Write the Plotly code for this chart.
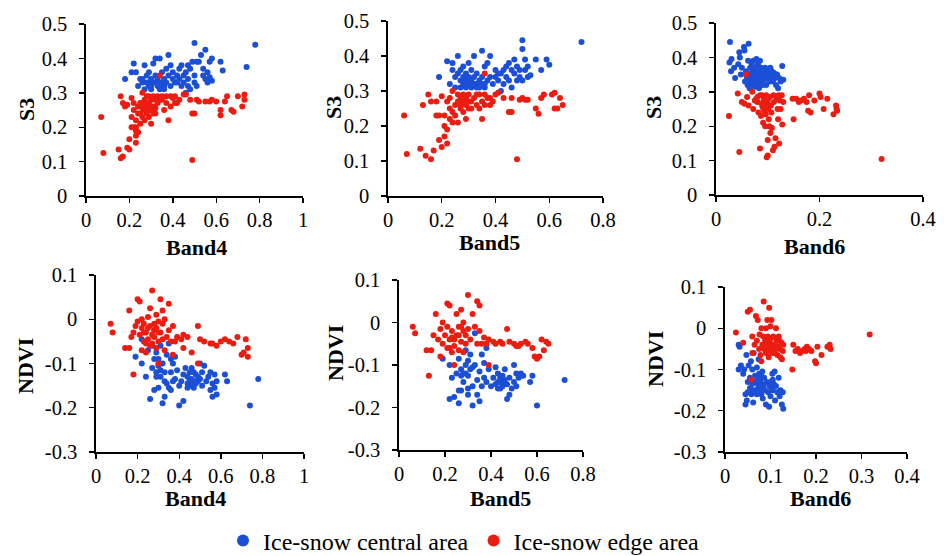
import plotly.graph_objects as go

W, H = 944, 556

# ---------------- data ----------------
# Panel 1: Band4 vs S3
p1_blue_x = [0.18,0.21,0.22,0.23,0.24,0.25,0.26,0.27,0.27,0.28,0.28,0.29,0.29,0.30,0.30,0.31,0.31,0.32,0.32,0.33,
             0.33,0.34,0.34,0.35,0.35,0.36,0.36,0.37,0.37,0.38,0.38,0.39,0.39,0.40,0.40,0.41,0.42,0.43,0.43,0.44,
             0.44,0.45,0.45,0.46,0.46,0.47,0.47,0.48,0.48,0.49,0.50,0.50,0.50,0.51,0.51,0.53,0.54,0.54,0.55,0.55,
             0.56,0.56,0.57,0.57,0.58,0.58,0.62,0.63,0.74,0.78,0.26,0.29,0.30,0.32,0.33,0.34,0.36,0.52,0.47,0.42]
p1_blue_y = [0.34,0.36,0.385,0.36,0.32,0.34,0.33,0.31,0.38,0.33,0.35,0.32,0.36,0.34,0.31,0.33,0.385,0.40,0.35,0.32,
             0.34,0.40,0.31,0.33,0.36,0.32,0.34,0.37,0.33,0.41,0.35,0.32,0.38,0.34,0.36,0.33,0.35,0.34,0.37,0.32,
             0.38,0.35,0.33,0.36,0.30,0.38,0.34,0.37,0.31,0.39,0.445,0.35,0.33,0.39,0.32,0.41,0.37,0.35,0.425,0.34,
             0.36,0.33,0.39,0.345,0.40,0.335,0.39,0.365,0.375,0.44,0.34,0.33,0.32,0.33,0.33,0.32,0.31,0.39,0.32,0.33]
p1_red_x = [0.07,0.08,0.15,0.16,0.17,0.16,0.17,0.18,0.19,0.19,0.20,0.20,0.21,0.21,0.22,0.22,0.23,0.23,0.23,0.23,
            0.24,0.24,0.25,0.25,0.26,0.26,0.27,0.27,0.28,0.28,0.28,0.29,0.29,0.30,0.30,0.30,0.31,0.31,0.32,0.32,
            0.33,0.33,0.34,0.34,0.36,0.37,0.37,0.38,0.39,0.40,0.41,0.42,0.43,0.45,0.46,0.48,0.49,0.49,0.50,0.51,
            0.52,0.55,0.57,0.58,0.60,0.62,0.62,0.64,0.65,0.67,0.68,0.70,0.72,0.73,0.73,0.26,0.29,0.35,0.22,0.24,
            0.27,0.30,0.31,0.26,0.28,0.32,0.35,0.39,0.41,0.21,0.23,0.25,0.29]
p1_red_y = [0.23,0.125,0.135,0.11,0.115,0.29,0.27,0.26,0.265,0.14,0.135,0.165,0.285,0.23,0.20,0.25,0.175,0.155,0.22,0.20,
            0.185,0.24,0.27,0.21,0.23,0.255,0.28,0.25,0.24,0.26,0.29,0.27,0.23,0.25,0.28,0.21,0.26,0.29,0.255,0.24,
            0.27,0.29,0.35,0.28,0.25,0.29,0.27,0.22,0.26,0.285,0.29,0.27,0.28,0.295,0.295,0.28,0.24,0.105,0.24,0.28,
            0.275,0.275,0.275,0.28,0.275,0.25,0.235,0.275,0.29,0.25,0.245,0.29,0.26,0.295,0.28,0.30,0.29,0.28,0.27,0.26,
            0.22,0.26,0.24,0.27,0.27,0.28,0.29,0.29,0.27,0.20,0.19,0.24,0.25]

# Panel 2: Band5 vs S3
p2_blue_x = [0.19,0.22,0.23,0.24,0.24,0.25,0.25,0.26,0.26,0.27,0.27,0.27,0.28,0.28,0.28,0.29,0.29,0.29,0.30,0.30,
             0.30,0.31,0.31,0.31,0.32,0.32,0.33,0.33,0.34,0.34,0.35,0.35,0.36,0.36,0.37,0.37,0.38,0.38,0.39,0.40,
             0.40,0.41,0.41,0.42,0.42,0.43,0.43,0.44,0.44,0.45,0.45,0.46,0.46,0.47,0.47,0.48,0.48,0.49,0.49,0.50,
             0.50,0.50,0.51,0.51,0.52,0.52,0.53,0.55,0.57,0.59,0.60,0.72,0.29,0.30,0.28,0.31,0.32,0.33,0.35,0.36]
p2_blue_y = [0.34,0.385,0.32,0.38,0.36,0.34,0.31,0.35,0.40,0.33,0.36,0.31,0.34,0.32,0.37,0.33,0.35,0.31,0.34,0.32,
             0.38,0.33,0.36,0.31,0.34,0.40,0.32,0.35,0.33,0.31,0.415,0.34,0.32,0.37,0.38,0.33,0.40,0.34,0.32,0.34,
             0.36,0.33,0.35,0.35,0.30,0.36,0.32,0.37,0.34,0.38,0.33,0.36,0.31,0.39,0.35,0.37,0.33,0.36,0.34,0.445,
             0.42,0.33,0.39,0.36,0.37,0.34,0.345,0.39,0.36,0.39,0.375,0.44,0.32,0.33,0.33,0.32,0.32,0.31,0.32,0.31]
p2_red_x = [0.06,0.07,0.12,0.14,0.16,0.17,0.13,0.15,0.16,0.18,0.18,0.19,0.19,0.20,0.20,0.21,0.21,0.21,0.22,0.22,
            0.22,0.23,0.23,0.24,0.24,0.25,0.25,0.26,0.26,0.27,0.27,0.28,0.28,0.29,0.29,0.30,0.30,0.31,0.32,0.33,
            0.34,0.34,0.35,0.35,0.36,0.36,0.37,0.38,0.39,0.40,0.41,0.43,0.45,0.46,0.46,0.48,0.49,0.50,0.51,0.52,
            0.55,0.56,0.57,0.58,0.61,0.62,0.62,0.63,0.64,0.65,0.26,0.27,0.29,0.31,0.33,0.24,0.23,0.28,0.30,0.36,0.38]
p2_red_y = [0.23,0.12,0.135,0.115,0.105,0.13,0.26,0.29,0.27,0.27,0.23,0.23,0.16,0.14,0.285,0.20,0.17,0.23,0.27,0.15,
            0.19,0.22,0.25,0.21,0.30,0.26,0.23,0.27,0.21,0.25,0.28,0.24,0.29,0.26,0.22,0.27,0.29,0.25,0.28,0.26,
            0.29,0.25,0.22,0.27,0.29,0.35,0.28,0.28,0.27,0.29,0.295,0.28,0.24,0.24,0.28,0.105,0.275,0.28,0.275,0.275,
            0.25,0.235,0.28,0.29,0.29,0.25,0.295,0.25,0.28,0.26,0.29,0.26,0.28,0.27,0.29,0.24,0.28,0.27,0.25,0.26,0.26]

# Panel 3: Band6 vs S3
p3_blue_x = [0.027,0.026,0.030,0.029,0.035,0.037,0.043,0.045,0.046,0.048,0.050,0.054,0.055,0.056,0.058,0.060,0.061,0.062,0.063,0.064,
             0.065,0.066,0.067,0.068,0.069,0.070,0.071,0.072,0.073,0.074,0.075,0.076,0.077,0.078,0.079,0.080,0.081,0.082,0.083,0.084,
             0.085,0.086,0.087,0.088,0.090,0.091,0.092,0.094,0.095,0.097,0.098,0.100,0.101,0.103,0.105,0.106,0.108,0.110,0.112,0.114,
             0.116,0.118,0.120,0.122,0.125,0.128,0.130,0.072,0.076,0.068,0.080,0.065,0.070,0.085,0.060]
p3_blue_y = [0.445,0.385,0.395,0.36,0.37,0.34,0.38,0.415,0.40,0.35,0.37,0.43,0.42,0.33,0.36,0.34,0.32,0.39,0.44,0.35,
             0.31,0.37,0.33,0.345,0.38,0.32,0.36,0.39,0.33,0.35,0.315,0.37,0.34,0.395,0.325,0.36,0.38,0.34,0.31,0.355,
             0.39,0.33,0.37,0.345,0.32,0.36,0.335,0.35,0.37,0.32,0.34,0.36,0.35,0.33,0.37,0.345,0.36,0.33,0.355,0.34,
             0.32,0.35,0.31,0.34,0.33,0.375,0.335,0.33,0.32,0.325,0.33,0.34,0.345,0.32,0.355]
p3_red_x = [0.025,0.045,0.042,0.050,0.055,0.058,0.060,0.063,0.070,0.072,0.075,0.078,0.080,0.082,0.085,0.085,0.087,0.089,0.090,0.091,
            0.092,0.093,0.094,0.095,0.096,0.097,0.098,0.099,0.100,0.100,0.101,0.102,0.103,0.104,0.105,0.106,0.107,0.108,0.110,0.111,
            0.112,0.113,0.115,0.117,0.119,0.120,0.121,0.122,0.123,0.125,0.127,0.128,0.130,0.148,0.150,0.155,0.160,0.165,0.170,0.175,
            0.178,0.180,0.183,0.190,0.200,0.202,0.208,0.215,0.227,0.232,0.233,0.234,0.320,0.092,0.088,0.100,0.095,0.080]
p3_red_y = [0.23,0.125,0.295,0.27,0.265,0.35,0.285,0.26,0.30,0.25,0.275,0.28,0.27,0.24,0.29,0.135,0.23,0.29,0.255,0.21,
            0.26,0.245,0.28,0.20,0.235,0.29,0.11,0.27,0.115,0.16,0.25,0.22,0.20,0.285,0.18,0.26,0.24,0.195,0.13,0.29,
            0.27,0.14,0.165,0.28,0.25,0.22,0.29,0.15,0.275,0.25,0.29,0.205,0.27,0.28,0.22,0.28,0.27,0.275,0.28,0.27,
            0.245,0.29,0.24,0.275,0.295,0.285,0.25,0.28,0.235,0.26,0.25,0.245,0.105,0.275,0.265,0.275,0.26,0.285]

# Panel 4: Band4 vs NDVI
p4_blue_x = [0.19,0.22,0.22,0.24,0.25,0.26,0.27,0.28,0.28,0.29,0.29,0.30,0.30,0.31,0.31,0.32,0.32,0.33,0.33,0.34,
             0.34,0.35,0.35,0.36,0.36,0.37,0.37,0.38,0.38,0.39,0.40,0.40,0.41,0.42,0.42,0.43,0.44,0.44,0.45,0.45,
             0.46,0.46,0.47,0.47,0.48,0.48,0.49,0.49,0.50,0.50,0.51,0.51,0.52,0.53,0.54,0.55,0.55,0.56,0.56,0.57,
             0.57,0.58,0.58,0.62,0.63,0.74,0.78,0.30,0.31,0.29,0.33,0.36,0.45,0.47,0.44,0.46,0.28,0.27]
p4_blue_y = [-0.085,-0.045,-0.10,-0.13,-0.07,-0.18,-0.11,-0.025,-0.16,-0.075,-0.12,-0.105,-0.155,-0.06,-0.13,-0.19,-0.10,-0.12,-0.175,-0.08,
             -0.145,-0.155,-0.055,-0.09,-0.12,-0.10,-0.14,-0.085,-0.135,-0.115,-0.195,-0.15,-0.14,-0.125,-0.185,-0.11,-0.145,-0.13,-0.12,-0.15,
             -0.135,-0.11,-0.14,-0.155,-0.125,-0.145,-0.13,-0.14,-0.10,-0.135,-0.15,-0.12,-0.105,-0.14,-0.13,-0.12,-0.16,-0.175,-0.145,-0.125,
             -0.155,-0.17,-0.14,-0.125,-0.14,-0.195,-0.135,-0.09,-0.115,-0.13,-0.14,-0.16,-0.14,-0.12,-0.155,-0.145,-0.09,-0.06]
p4_red_x = [0.07,0.08,0.14,0.16,0.16,0.17,0.18,0.18,0.19,0.20,0.20,0.21,0.21,0.22,0.22,0.23,0.23,0.24,0.24,0.25,
            0.25,0.26,0.26,0.27,0.27,0.28,0.28,0.29,0.29,0.30,0.30,0.31,0.31,0.32,0.32,0.33,0.33,0.34,0.35,0.35,
            0.36,0.37,0.37,0.38,0.39,0.41,0.42,0.42,0.44,0.46,0.49,0.50,0.52,0.55,0.56,0.58,0.60,0.62,0.64,0.66,
            0.68,0.70,0.71,0.72,0.73,0.73,0.30,0.49,0.27,0.25,0.24,0.28,0.26,0.23,0.22,0.30,0.32,0.29]
p4_red_y = [-0.01,-0.03,-0.065,-0.065,0.02,-0.04,-0.125,-0.03,-0.015,0.045,-0.005,-0.035,0.04,-0.07,-0.02,-0.01,-0.05,-0.03,-0.075,0.005,
            -0.045,-0.015,0.025,0.065,-0.055,-0.01,-0.04,-0.02,-0.065,-0.005,-0.05,-0.03,0.045,0.02,-0.045,-0.07,0.0,-0.04,0.035,-0.025,
            -0.05,-0.08,-0.015,-0.05,-0.04,-0.045,-0.035,-0.065,-0.04,-0.075,-0.015,-0.045,-0.05,-0.055,-0.055,-0.06,-0.05,-0.045,-0.05,-0.055,
            -0.04,-0.08,-0.075,-0.045,-0.065,-0.085,-0.10,-0.10,-0.035,-0.02,-0.055,-0.025,-0.06,-0.03,0.0,-0.03,-0.01,0.01]

# Panel 5: Band5 vs NDVI
p5_blue_x = [0.19,0.22,0.22,0.23,0.24,0.25,0.26,0.26,0.27,0.27,0.28,0.28,0.29,0.29,0.30,0.30,0.31,0.31,0.32,0.32,
             0.33,0.33,0.34,0.34,0.35,0.35,0.36,0.36,0.37,0.37,0.38,0.38,0.39,0.40,0.41,0.42,0.42,0.43,0.43,0.44,
             0.44,0.45,0.45,0.46,0.46,0.47,0.47,0.48,0.48,0.49,0.50,0.50,0.51,0.51,0.52,0.53,0.54,0.57,0.58,0.60,
             0.72,0.29,0.30,0.27,0.32,0.44,0.45,0.43,0.26,0.30]
p5_blue_y = [-0.085,-0.10,-0.18,-0.13,-0.175,-0.12,-0.19,-0.085,-0.16,-0.11,-0.12,-0.14,-0.10,-0.065,-0.125,-0.155,-0.11,-0.075,-0.195,-0.15,
             -0.025,-0.10,-0.135,-0.17,-0.115,-0.185,-0.075,-0.15,-0.095,-0.13,-0.06,-0.14,-0.11,-0.15,-0.13,-0.145,-0.105,-0.14,-0.12,-0.13,
             -0.155,-0.125,-0.14,-0.135,-0.11,-0.145,-0.18,-0.13,-0.17,-0.155,-0.10,-0.14,-0.12,-0.15,-0.13,-0.12,-0.125,-0.14,-0.125,-0.195,
             -0.135,-0.12,-0.09,-0.125,-0.105,-0.14,-0.15,-0.155,-0.16,-0.17]
p5_red_x = [0.06,0.07,0.12,0.14,0.13,0.15,0.16,0.17,0.18,0.18,0.19,0.19,0.20,0.21,0.21,0.22,0.22,0.23,0.23,0.24,
            0.24,0.25,0.25,0.26,0.26,0.27,0.27,0.28,0.28,0.29,0.29,0.30,0.30,0.31,0.32,0.33,0.34,0.34,0.35,0.35,
            0.36,0.37,0.38,0.39,0.39,0.41,0.42,0.44,0.45,0.47,0.48,0.50,0.51,0.52,0.53,0.55,0.56,0.58,0.59,0.60,
            0.61,0.62,0.63,0.65,0.64,0.24,0.26,0.21,0.23,0.28,0.22,0.27]
p5_red_y = [-0.01,-0.025,-0.065,-0.065,-0.125,-0.03,0.02,-0.04,-0.08,-0.015,0.0,-0.05,-0.03,0.045,-0.01,0.04,-0.06,-0.02,-0.035,-0.10,
            -0.055,0.02,-0.03,-0.01,-0.065,0.03,-0.045,-0.02,-0.07,-0.03,-0.05,0.065,-0.015,-0.04,0.02,-0.01,0.05,-0.05,0.04,-0.02,
            -0.05,-0.035,-0.05,-0.04,-0.10,-0.045,-0.05,-0.045,-0.05,-0.015,-0.045,-0.05,-0.055,-0.055,-0.05,-0.045,-0.05,-0.06,-0.08,-0.085,
            -0.08,-0.04,-0.065,-0.05,-0.045,-0.04,-0.03,-0.06,-0.07,0.0,-0.04,-0.01]

# Panel 6: Band6 vs NDVI
p6_blue_x = [0.030,0.030,0.032,0.035,0.040,0.042,0.045,0.045,0.047,0.048,0.050,0.050,0.052,0.055,0.055,0.057,0.058,0.060,0.060,0.062,
             0.063,0.065,0.066,0.068,0.070,0.070,0.072,0.073,0.074,0.075,0.076,0.077,0.078,0.079,0.080,0.080,0.081,0.082,0.083,0.085,
             0.086,0.088,0.090,0.092,0.095,0.097,0.098,0.100,0.100,0.102,0.104,0.105,0.107,0.109,0.110,0.112,0.115,0.118,0.120,0.122,
             0.125,0.127,0.128,0.076,0.074,0.078,0.072,0.065,0.060,0.105]
p6_blue_y = [-0.04,-0.10,-0.045,-0.09,-0.11,-0.10,-0.16,-0.185,-0.065,-0.175,-0.13,-0.155,-0.09,-0.12,-0.145,-0.08,-0.16,-0.10,-0.135,-0.18,
             -0.06,-0.15,-0.115,-0.13,-0.095,-0.16,-0.12,-0.14,-0.075,-0.11,-0.15,-0.13,-0.125,-0.145,-0.115,-0.16,-0.135,-0.105,-0.17,-0.14,
             -0.12,-0.15,-0.185,-0.13,-0.155,-0.19,-0.14,-0.165,-0.13,-0.145,-0.11,-0.15,-0.135,-0.105,-0.175,-0.14,-0.155,-0.12,-0.165,-0.15,
             -0.185,-0.155,-0.195,-0.13,-0.12,-0.14,-0.13,-0.13,-0.15,-0.125]
p6_red_x = [0.024,0.040,0.050,0.055,0.058,0.060,0.060,0.065,0.068,0.070,0.072,0.075,0.076,0.078,0.080,0.080,0.082,0.084,0.085,0.086,
            0.088,0.090,0.090,0.092,0.093,0.094,0.095,0.096,0.097,0.098,0.100,0.100,0.102,0.103,0.105,0.106,0.108,0.110,0.112,0.113,
            0.115,0.116,0.118,0.120,0.122,0.124,0.125,0.127,0.128,0.148,0.150,0.155,0.160,0.165,0.170,0.175,0.178,0.180,0.185,0.190,
            0.198,0.200,0.203,0.212,0.225,0.230,0.232,0.318,0.095,0.098,0.100,0.092,0.088,0.105,0.110,0.120]
p6_red_y = [-0.01,-0.035,0.04,0.045,-0.125,-0.02,-0.06,-0.04,0.03,-0.03,0.02,-0.05,-0.015,-0.065,0.0,-0.08,-0.04,-0.02,0.065,-0.05,
            -0.03,-0.06,0.0,-0.04,0.02,-0.02,-0.05,-0.07,0.05,-0.03,0.005,-0.055,0.02,-0.04,-0.06,-0.02,-0.05,-0.04,0.0,-0.03,
            -0.065,-0.045,-0.02,-0.05,-0.07,-0.035,-0.075,-0.055,-0.04,-0.10,-0.04,-0.055,-0.05,-0.06,-0.055,-0.05,-0.055,-0.045,-0.05,-0.055,
            -0.08,-0.085,-0.045,-0.065,-0.045,-0.04,-0.05,-0.015,-0.04,-0.05,-0.025,-0.06,-0.045,-0.045,-0.06,-0.03]

series_names = ["Ice-snow central area", "Ice-snow edge area"]

s3_ticks = [0, 0.1, 0.2, 0.3, 0.4, 0.5]
s3_labels = ["0", "0.1", "0.2", "0.3", "0.4", "0.5"]
ndvi_ticks = [-0.3, -0.2, -0.1, 0, 0.1]
ndvi_labels = ["-0.3", "-0.2", "-0.1", "0", "0.1"]
b4_ticks = [0, 0.2, 0.4, 0.6, 0.8, 1]
b4_labels = ["0", "0.2", "0.4", "0.6", "0.8", "1"]
b5_ticks = [0, 0.2, 0.4, 0.6, 0.8]
b5_labels = ["0", "0.2", "0.4", "0.6", "0.8"]
b6_top_ticks = [0, 0.2, 0.4]
b6_top_labels = ["0", "0.2", "0.4"]
b6_bot_ticks = [0, 0.1, 0.2, 0.3, 0.4]
b6_bot_labels = ["0", "0.1", "0.2", "0.3", "0.4"]

# ---------------- styling / layout ----------------
BLUE = "#1b4fd6"
RED = "#ec1c10"
FONT = "Liberation Serif, Times New Roman, DejaVu Serif, serif"

# panel pixel boxes: (x0, x1, ytop, ybottom)
boxes = [
    (86, 303, 24, 196),
    (388, 603, 21, 196),
    (716, 923, 23, 195),
    (96, 304, 275, 452),
    (399, 583, 280, 450),
    (725, 907, 287, 452),
]

panels = [
    (p1_blue_x, p1_blue_y, p1_red_x, p1_red_y, b4_ticks, b4_labels, s3_ticks, s3_labels, "Band4", "S3"),
    (p2_blue_x, p2_blue_y, p2_red_x, p2_red_y, b5_ticks, b5_labels, s3_ticks, s3_labels, "Band5", "S3"),
    (p3_blue_x, p3_blue_y, p3_red_x, p3_red_y, b6_top_ticks, b6_top_labels, s3_ticks, s3_labels, "Band6", "S3"),
    (p4_blue_x, p4_blue_y, p4_red_x, p4_red_y, b4_ticks, b4_labels, ndvi_ticks, ndvi_labels, "Band4", "NDVI"),
    (p5_blue_x, p5_blue_y, p5_red_x, p5_red_y, b5_ticks, b5_labels, ndvi_ticks, ndvi_labels, "Band5", "NDVI"),
    (p6_blue_x, p6_blue_y, p6_red_x, p6_red_y, b6_bot_ticks, b6_bot_labels, ndvi_ticks, ndvi_labels, "Band6", "NDVI"),
]

# axis title positions (px centre)
xtitle_pos = [(196, 247), (490, 243), (814, 246), (195, 498), (500, 498), (820, 498)]
ytitle_pos = [(26, 110), (333, 108), (653, 108), (25, 366), (335, 353), (655, 359)]

fig = go.Figure()
layout = dict(
    template="none",
    width=W, height=H,
    margin=dict(l=0, r=0, t=0, b=0, pad=0, autoexpand=False),
    paper_bgcolor="white", plot_bgcolor="white",
    font=dict(family=FONT, size=20, color="black"),
    showlegend=True,
    legend=dict(orientation="h", x=464 / W, xanchor="center", y=1 - 541 / H, yanchor="middle",
                font=dict(family=FONT, size=24, color="black"), itemsizing="constant",
                itemwidth=30, tracegroupgap=0, bgcolor="rgba(0,0,0,0)"),
)
annotations = []

for i, (bx, by, rx, ry, xt, xl, yt, yl, xtitle, ytitle) in enumerate(panels):
    n = i + 1
    xa = "x" if n == 1 else f"x{n}"
    ya = "y" if n == 1 else f"y{n}"
    fig.add_trace(go.Scatter(x=bx, y=by, mode="markers", xaxis=xa, yaxis=ya,
                             name=series_names[0], legendgroup="b", showlegend=(n == 1),
                             marker=dict(color=BLUE, size=6, line=dict(width=0))))
    fig.add_trace(go.Scatter(x=rx, y=ry, mode="markers", xaxis=xa, yaxis=ya,
                             name=series_names[1], legendgroup="r", showlegend=(n == 1),
                             marker=dict(color=RED, size=6, line=dict(width=0))))
    x0, x1, yt0, yb0 = boxes[i]
    common = dict(showgrid=False, zeroline=False, showline=True, linecolor="black", linewidth=1.6,
                  ticks="outside", ticklen=5, tickwidth=1.4, tickcolor="black", automargin=False,
                  tickfont=dict(family=FONT, size=20.5, color="black"))
    layout[f"xaxis{'' if n == 1 else n}"] = dict(
        common, domain=[x0 / W, x1 / W], anchor=ya, range=[xt[0], xt[-1]],
        tickmode="array", tickvals=xt, ticktext=xl, ticklabelstandoff=0)
    layout[f"yaxis{'' if n == 1 else n}"] = dict(
        common, domain=[1 - yb0 / H, 1 - yt0 / H], anchor=xa, range=[yt[0], yt[-1]],
        tickmode="array", tickvals=yt, ticktext=yl, ticklabelstandoff=8)
    tx, ty = xtitle_pos[i]
    annotations.append(dict(text=f"<b>{xtitle}</b>", xref="paper", yref="paper",
                            x=tx / W, y=1 - ty / H, xanchor="center", yanchor="middle",
                            showarrow=False, font=dict(family=FONT, size=22, color="black")))
    ux, uy = ytitle_pos[i]
    annotations.append(dict(text=f"<b>{ytitle}</b>", xref="paper", yref="paper",
                            x=ux / W, y=1 - uy / H, xanchor="center", yanchor="middle",
                            textangle=-90, showarrow=False,
                            font=dict(family=FONT, size=22, color="black")))

layout["annotations"] = annotations
fig.update_layout(**layout)
fig.write_html("out.html", config={"displayModeBar": False, "staticPlot": True},
               post_script="document.body.style.margin='0';document.body.style.padding='0';")
